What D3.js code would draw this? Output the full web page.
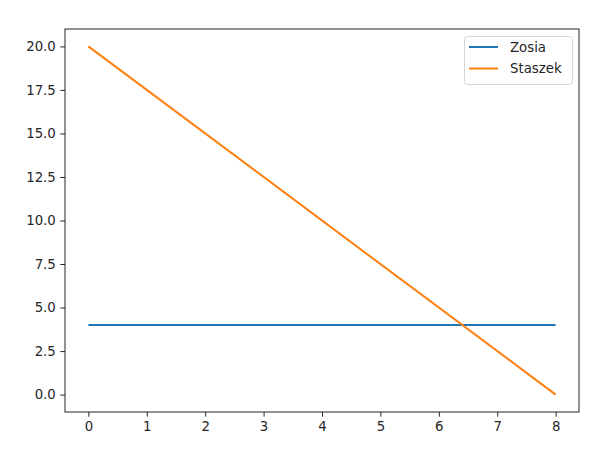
<!DOCTYPE html>
<html>
<head>
<meta charset="utf-8">
<script src="https://d3js.org/d3.v7.min.js"></script>
<style>
  body { margin: 0; background: #fff; }
  text { font-family: "DejaVu Sans", sans-serif; fill: #262626; }
</style>
</head>
<body>
<svg width="616" height="449"></svg>
<script>
const xs = [0, 8];
const zosia = [4, 4];
const staszek = [20, 0];
const xTicks = [0, 1, 2, 3, 4, 5, 6, 7, 8];
const yTicks = [0, 2.5, 5, 7.5, 10, 12.5, 15, 17.5, 20];
const seriesNames = ['Zosia', 'Staszek'];
const seriesColors = ['#1f77b4', '#ff7f0e'];

const mLeft = 65, mRight = 579, mTop = 29, mBottom = 412;
const svg = d3.select('svg');

const x = d3.scaleLinear().domain([-0.4, 8.4]).range([mLeft, mRight]);
const y = d3.scaleLinear().domain([-1, 21]).range([mBottom, mTop]);

const line = d3.line().x((d, i) => x(xs[i])).y(d => y(d));

[zosia, staszek].forEach((s, i) => {
  svg.append('path').attr('d', line(s))
    .attr('fill', 'none').attr('stroke', seriesColors[i]).attr('stroke-width', 2);
});

const xAxis = svg.append('g').attr('transform', `translate(0,${mBottom})`)
  .call(d3.axisBottom(x).tickValues(xTicks).tickFormat(d3.format('d')).tickSizeOuter(0).tickSize(4.7).tickPadding(4.5));
const yAxis = svg.append('g').attr('transform', `translate(${mLeft},0)`)
  .call(d3.axisLeft(y).tickValues(yTicks).tickFormat(d3.format('.1f')).tickSizeOuter(0).tickSize(4.7).tickPadding(4.5));
[xAxis, yAxis].forEach(g => {
  g.select('.domain').remove();
  g.selectAll('line').attr('stroke', '#262626').attr('stroke-width', 1);
  g.selectAll('text').attr('font-size', 13.3).attr('fill', '#262626')
    .attr('font-family', '"DejaVu Sans", sans-serif');
});

svg.append('rect').attr('x', mLeft).attr('y', mTop)
  .attr('width', mRight - mLeft).attr('height', mBottom - mTop)
  .attr('fill', 'none').attr('stroke', '#262626').attr('stroke-width', 1);

// legend
const lg = svg.append('g');
lg.append('rect').attr('x', 464.5).attr('y', 36.5).attr('width', 108).attr('height', 48)
  .attr('rx', 3).attr('fill', '#fff').attr('fill-opacity', 0.8)
  .attr('stroke', '#d6d6d6').attr('stroke-width', 1);
seriesNames.forEach((n, i) => {
  const cy = 47 + i * 21.5;
  lg.append('line').attr('x1', 469).attr('x2', 498).attr('y1', cy).attr('y2', cy)
    .attr('stroke', seriesColors[i]).attr('stroke-width', 2);
  lg.append('text').attr('x', 510).attr('y', cy).attr('dy', '0.35em')
    .attr('font-size', 13.3).text(n);
});
</script>
</body>
</html>
